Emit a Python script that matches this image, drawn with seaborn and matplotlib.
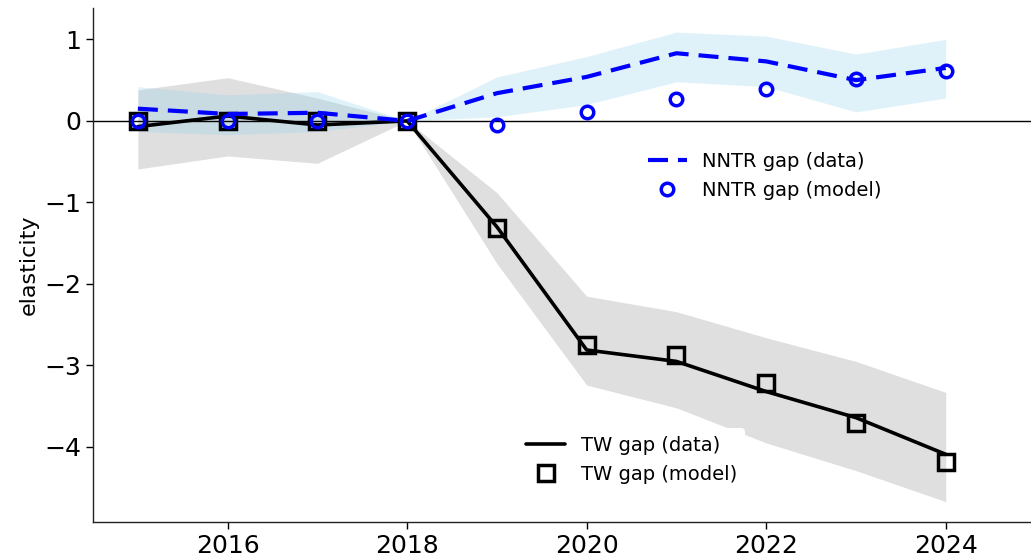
import numpy as np
import pandas as pd
import matplotlib
matplotlib.use("Agg")
import matplotlib.pyplot as plt
import seaborn as sns

years = [2015, 2016, 2017, 2018, 2019, 2020, 2021, 2022, 2023, 2024]

# Tariff-war gap
tw_data = [-0.07, 0.06, -0.05, 0.0, -1.30, -2.81, -2.95, -3.32, -3.64, -4.09]
tw_model = [0.0, 0.0, 0.0, 0.0, -1.31, -2.75, -2.87, -3.22, -3.70, -4.19]
tw_lo = [-0.59, -0.43, -0.52, 0.0, -1.75, -3.24, -3.52, -3.95, -4.29, -4.67]
tw_hi = [0.38, 0.53, 0.28, 0.0, -0.88, -2.15, -2.34, -2.66, -2.95, -3.33]

# NNTR gap
nntr_data = [0.15, 0.085, 0.10, 0.0, 0.34, 0.54, 0.83, 0.73, 0.50, 0.65]
nntr_model = [0.0, 0.0, 0.0, 0.0, -0.05, 0.11, 0.27, 0.39, 0.51, 0.61]
nntr_lo = [-0.13, -0.17, -0.13, 0.0, 0.05, 0.20, 0.48, 0.42, 0.11, 0.28]
nntr_hi = [0.42, 0.32, 0.36, 0.0, 0.54, 0.79, 1.09, 1.04, 0.82, 1.00]

df = pd.DataFrame({
    "year": years,
    "tw_data": tw_data, "tw_model": tw_model, "tw_lo": tw_lo, "tw_hi": tw_hi,
    "nntr_data": nntr_data, "nntr_model": nntr_model,
    "nntr_lo": nntr_lo, "nntr_hi": nntr_hi,
})

sns.set_style("ticks")
plt.rcParams["font.family"] = ["DejaVu Sans"]
plt.rcParams.update({
    "text.color": "black",
    "axes.labelcolor": "black",
    "xtick.color": "black",
    "ytick.color": "black",
    "axes.edgecolor": "#222222",
})

fig = plt.figure(figsize=(10.31, 5.59), dpi=100)
ax = fig.add_axes([93 / 1031, 37 / 559, 1 - 93 / 1031, 514 / 559])

# confidence bands
ax.fill_between(df["year"], df["tw_lo"], df["tw_hi"], color="grey", alpha=0.25, lw=0)
ax.fill_between(df["year"], df["nntr_lo"], df["nntr_hi"], color="skyblue", alpha=0.25, lw=0)

ax.axhline(0, color="black", lw=1.0)

sns.lineplot(data=df, x="year", y="tw_data", color="black", lw=2.6, ax=ax)
sns.lineplot(data=df, x="year", y="tw_model", marker="s", linestyle="", markersize=11,
             markerfacecolor="none", markeredgecolor="black", markeredgewidth=2.5, ax=ax)
sns.lineplot(data=df, x="year", y="nntr_data", color="blue", lw=3.0, ax=ax,
             dashes=False, linestyle=(0, (4.8, 2.4)))
sns.lineplot(data=df, x="year", y="nntr_model", marker="o", linestyle="", markersize=9,
             markerfacecolor="none", markeredgecolor="blue", markeredgewidth=2.5, ax=ax)

lines = ax.get_lines()
tw_line, tw_sq, nn_line, nn_circ = lines[1], lines[2], lines[3], lines[4]

leg1 = ax.legend([nn_line, nn_circ], ["NNTR gap (data)", "NNTR gap (model)"],
                 loc="center", bbox_to_anchor=(0.716, 0.673), fontsize=14,
                 frameon=False, handlelength=2.0)
ax.add_artist(leg1)
leg2 = ax.legend([tw_line, tw_sq], ["TW gap (data)", "TW gap (model)"],
                 loc="center", bbox_to_anchor=(0.574, 0.121), fontsize=14,
                 frameon=True, facecolor="white", edgecolor="none", framealpha=1.0,
                 handlelength=2.0)

ax.set_xlim(2014.5, 2024.95)
ax.set_ylim(-4.92, 1.385)
ax.set_xticks([2016, 2018, 2020, 2022, 2024])
ax.set_yticks([1, 0, -1, -2, -3, -4])
ax.tick_params(axis="both", labelsize=18, length=5, width=1, direction="out")
ax.set_xlabel("")
ax.set_ylabel("elasticity", fontsize=16)
sns.despine(ax=ax)
for s in ax.spines.values():
    s.set_linewidth(1.0)

fig.savefig("out.png", dpi=100)
